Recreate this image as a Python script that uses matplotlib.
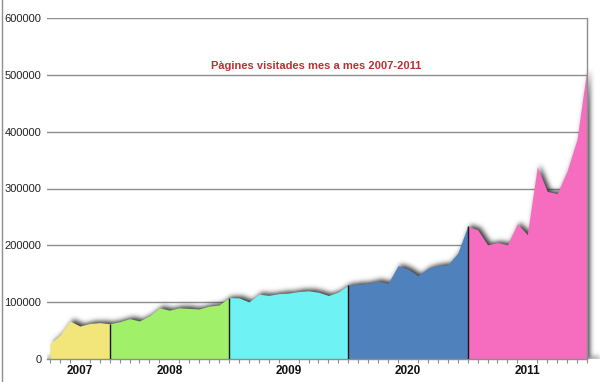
import numpy as np
import matplotlib.pyplot as plt
from matplotlib.lines import Line2D

# === Daten ===
years = ["2007", "2008", "2009", "2020", "2011"]
year_colors = ["#f2e67a", "#a0f06a", "#6ef2f4", "#4f81bd", "#f66dbf"]
year_bounds = [0, 6, 18, 30, 42, 54]   # month index where each year's area starts / ends
year_centers = [3, 12, 24, 36, 48]

visits = [27000, 42000, 67000, 58000, 62500, 64000, 62000,
          65500, 71000, 67000, 76000, 90000, 86000, 90000, 89000, 88000, 93000, 95000, 108000,
          107500, 100500, 114000, 112000, 115000, 116000, 118700, 120000, 117500, 111700, 118000, 130000,
          131400, 133100, 137200, 133000, 164200, 158400, 146600, 159500, 164200, 165400, 186000, 233500,
          227600, 201000, 205000, 201000, 238000, 219000, 338000, 295000, 291000, 330600, 386500, 511000]

title = "Pàgines visitades mes a mes 2007-2011"

plt.rcParams['font.family'] = ['Liberation Sans', 'DejaVu Sans']

xs = np.arange(len(visits))
ymax = 600000
xlo, xhi = -0.3, 54

fig = plt.figure(figsize=(6, 3.82), dpi=100)
ax = fig.add_axes([47 / 600, 23 / 382, 540 / 600, 341 / 382])

# === Schatten (verschoben + weichgezeichnet) ===
ppx = 540 / (xhi - xlo)      # pixel pro Monat
ppy = 341 / ymax             # pixel pro Besuch
gx = np.linspace(xlo, xhi + 1.3, int((xhi + 1.3 - xlo) * ppx))
gy = np.linspace(0, ymax, 342)
top = np.interp(gx - 3.5 / ppx, xs, visits, left=0, right=0) + 1.5 / ppy
mask = (gy[:, None] <= top[None, :]).astype(float)
k = np.exp(-np.arange(-8, 9) ** 2 / (2 * 2.5 ** 2))
k /= k.sum()
blur = np.apply_along_axis(lambda r: np.convolve(r, k, mode="same"), 0, mask)
blur = np.apply_along_axis(lambda r: np.convolve(r, k, mode="same"), 1, blur)
rgba = np.zeros(mask.shape + (4,))
rgba[..., :3] = 0.15
rgba[..., 3] = np.clip(blur * 0.9, 0, 1)
img = ax.imshow(rgba, extent=[gx[0], gx[-1], 0, ymax], origin="lower",
                aspect="auto", zorder=1, interpolation="bilinear")
img.set_clip_on(False)

# === Flächen pro Jahr ===
for k_, name in enumerate(years):
    s, e = year_bounds[k_], year_bounds[k_ + 1]
    ax.fill_between(xs[s:e + 1], visits[s:e + 1], color=year_colors[k_], lw=0, zorder=2)
for b in year_bounds[1:-1]:
    ax.vlines(xs[b], 0, visits[b], color="#151515", lw=1, zorder=3)

ax.set_xlim(xlo, xhi)
ax.set_ylim(0, ymax)

# === Achsen ===
ax.set_yticks(range(0, ymax + 1, 100000))
ax.set_yticklabels([str(v) for v in range(0, ymax + 1, 100000)])
ax.yaxis.grid(True, color="#8e8e8e", lw=1)
ax.set_axisbelow(True)
ax.tick_params(axis="y", length=0, pad=4, labelsize=8, labelcolor="#222222")

ax.set_xticks(year_centers)
ax.set_xticklabels(years, fontweight="bold")
ax.set_xticks(xs, minor=True)
ax.tick_params(axis="x", which="major", length=0, pad=4.5, labelsize=8.5, labelcolor="#111111")
ax.tick_params(axis="x", which="minor", length=3, width=0.8, color="#8e8e8e")

for side in ["left", "top"]:
    ax.spines[side].set_visible(False)
for side in ["right", "bottom"]:
    ax.spines[side].set_color("#8e8e8e")
    ax.spines[side].set_linewidth(1)

ax.text(0.498, 0.859, title, transform=ax.transAxes, ha="center", va="center",
        color="#b83232", fontsize=8, fontweight="bold", zorder=5)

# linke Bildkante
fig.add_artist(Line2D([1.5 / 600, 1.5 / 600], [0, 1], color="#8e8e8e", lw=1))

fig.savefig("out.png", dpi=100)
